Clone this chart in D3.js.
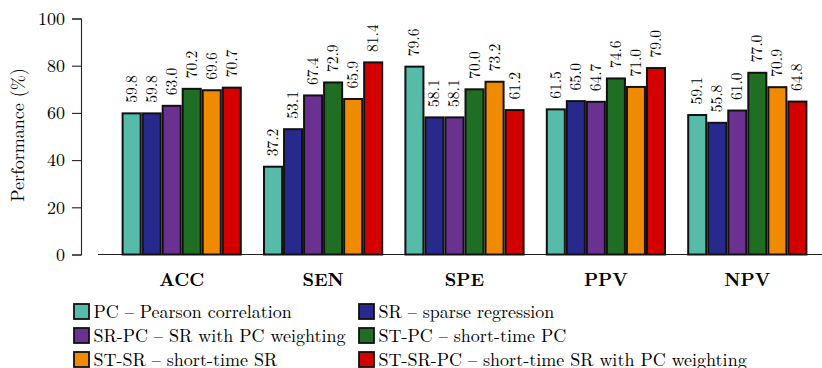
<!DOCTYPE html>
<html>
<head>
<meta charset="utf-8">
<script src="https://cdn.jsdelivr.net/npm/d3@7"></script>
<style>
  body { margin: 0; background: #fff; }
</style>
</head>
<body>
<svg width="822" height="368"></svg>
<script>
var categories = ["ACC", "SEN", "SPE", "PPV", "NPV"];
var seriesKeys = ["PC", "SR", "SR-PC", "ST-PC", "ST-SR", "ST-SR-PC"];
var seriesLabels = [
    "PC \u2013 Pearson correlation",
    "SR \u2013 sparse regression",
    "SR-PC \u2013 SR with PC weighting",
    "ST-PC \u2013 short-time PC",
    "ST-SR \u2013 short-time SR",
    "ST-SR-PC \u2013 short-time SR with PC weighting"
];
var pcValues = [59.8, 37.2, 79.6, 61.5, 59.1];
var srValues = [59.8, 53.1, 58.1, 65.0, 55.8];
var srpcValues = [63.0, 67.4, 58.1, 64.7, 61.0];
var stpcValues = [70.2, 72.9, 70.0, 74.6, 77.0];
var stsrValues = [69.6, 65.9, 73.2, 71.0, 70.9];
var stsrpcValues = [70.7, 81.4, 61.2, 79.0, 64.8];
var yTicks = [0, 20, 40, 60, 80, 100];

var seriesValues = [pcValues, srValues, srpcValues, stpcValues, stsrValues, stsrpcValues];
var colors = ["#57bba9", "#272a8c", "#6a3191", "#1f6e23", "#f08a00", "#d40000"];
var FONT = "'Latin Modern Roman', 'CMU Serif', 'Liberation Serif', serif";

var svg = d3.select("svg");

var x0 = d3.scaleBand()
    .domain(categories)
    .range([111, 818])
    .paddingInner(0.15)
    .paddingOuter(0.075);

var x1 = d3.scaleBand()
    .domain(seriesKeys)
    .range([0, x0.bandwidth()])
    .padding(0);

var y = d3.scaleLinear()
    .domain([0, 100])
    .range([254.5, 18.5]);

var color = d3.scaleOrdinal().domain(seriesKeys).range(colors);

// y axis
var yAxis = svg.append("g")
    .attr("transform", "translate(81,0)")
    .call(d3.axisLeft(y).tickValues(yTicks).tickSize(9).tickPadding(7).tickFormat(d3.format("d")));
yAxis.select(".domain").attr("stroke", "#222").attr("stroke-width", 1.1);
yAxis.selectAll(".tick line").attr("stroke", "#222").attr("stroke-width", 1.1);
yAxis.selectAll(".tick text")
    .attr("font-size", 18)
    .style("font-family", FONT)
    .attr("fill", "#000");

svg.append("text")
    .attr("transform", "translate(24,135) rotate(-90)")
    .attr("text-anchor", "middle")
    .attr("font-size", 18)
    .style("font-family", FONT)
    .text("Performance (%)");

// baseline
svg.append("line")
    .attr("x1", 98).attr("x2", 822)
    .attr("y1", y(0)).attr("y2", y(0))
    .attr("stroke", "#222").attr("stroke-width", 1.1);

var rows = categories.map(function (c, i) {
    return {
        cat: c,
        bars: seriesKeys.map(function (k, j) {
            return { key: k, value: seriesValues[j][i] };
        })
    };
});

var group = svg.selectAll(".group")
    .data(rows)
    .enter().append("g")
    .attr("class", "group")
    .attr("transform", function (d) { return "translate(" + x0(d.cat) + ",0)"; });

group.selectAll("rect")
    .data(function (d) { return d.bars; })
    .enter().append("rect")
    .attr("x", function (d) { return x1(d.key) + 1; })
    .attr("width", x1.bandwidth() - 2)
    .attr("y", function (d) { return y(d.value); })
    .attr("height", function (d) { return y(0) - y(d.value); })
    .attr("fill", function (d) { return color(d.key); })
    .attr("stroke", "#111")
    .attr("stroke-width", 2);

group.selectAll(".val")
    .data(function (d) { return d.bars; })
    .enter().append("text")
    .attr("class", "val")
    .attr("font-size", 15.5)
    .style("font-family", FONT)
    .attr("transform", function (d) {
        return "translate(" + (x1(d.key) + x1.bandwidth() / 2 + 5) + "," + (y(d.value) - 10.5) + ") rotate(-90)";
    })
    .text(function (d) { return d.value.toFixed(1); });

// category labels
svg.selectAll(".cat")
    .data(categories)
    .enter().append("text")
    .attr("class", "cat")
    .attr("x", function (d) { return x0(d) + x0.bandwidth() / 2; })
    .attr("y", 286)
    .attr("text-anchor", "middle")
    .attr("font-size", 18)
    .attr("font-weight", "bold")
    .style("font-family", FONT)
    .text(function (d) { return d; });

// legend
var legend = svg.selectAll(".legend")
    .data(seriesKeys)
    .enter().append("g")
    .attr("class", "legend")
    .attr("transform", function (d, i) {
        var col = i % 2, row = Math.floor(i / 2);
        return "translate(" + (col === 0 ? 74 : 359) + "," + (311.5 + row * 24) + ")";
    });

legend.append("rect")
    .attr("y", -7.5)
    .attr("width", 15)
    .attr("height", 15)
    .attr("fill", function (d) { return color(d); })
    .attr("stroke", "#111")
    .attr("stroke-width", 1.8);

legend.append("text")
    .attr("x", 19.5)
    .attr("y", 6)
    .attr("font-size", 18)
    .style("font-family", FONT)
    .text(function (d, i) { return seriesLabels[i]; });
</script>
</body>
</html>
